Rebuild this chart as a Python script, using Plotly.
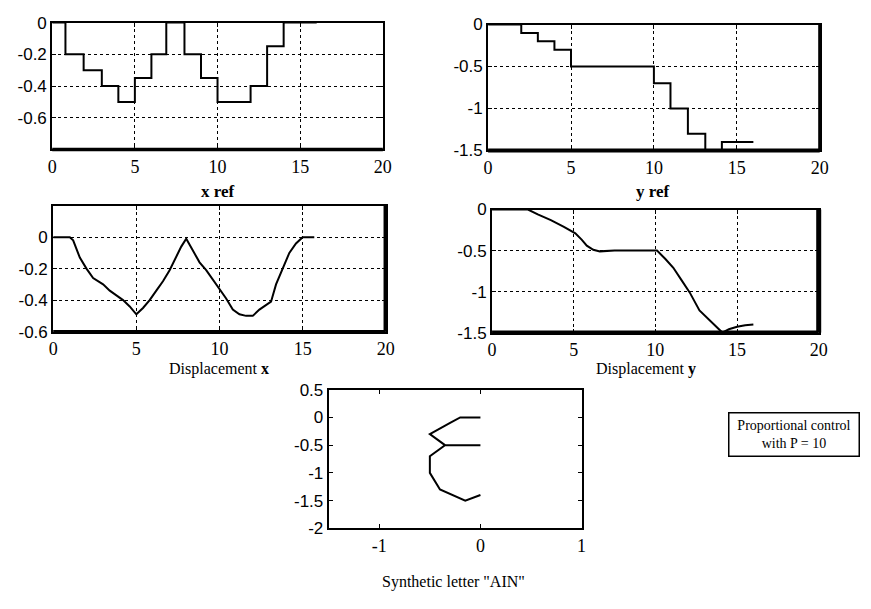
import plotly.graph_objects as go

# ---------------- data ----------------
# reference steps (step start times and values)
xref_t = [0, 0.8, 1.9, 3, 4, 5, 6, 6.9, 8, 9, 10, 11, 12, 13, 14, 15]
xref_v = [0, -0.2, -0.3, -0.4, -0.5, -0.35, -0.2, 0, -0.2, -0.35, -0.5, -0.5, -0.4, -0.15, 0, 0]
yref_t = [0, 1, 2, 3, 4, 5, 6, 7, 8, 9, 10, 11, 12.05, 13.1, 14.1, 15]
yref_v = [0, 0, -0.1, -0.2, -0.3, -0.5, -0.5, -0.5, -0.5, -0.5, -0.7, -1.0, -1.3, -1.5, -1.4, -1.4]
t_end = 16

# displacement responses
dx_t = [0, 0.5, 1.0, 1.2, 1.6, 2.0, 2.4, 3.0, 3.4, 3.8, 4.2, 4.6, 5.0, 5.4, 5.8, 6.2, 6.6, 7.0,
        7.4, 7.7, 8.0, 8.4, 8.8, 9.2, 9.6, 10.0, 10.4, 10.8, 11.2, 11.6, 12.0, 12.4, 12.8, 13.1,
        13.4, 13.8, 14.2, 14.6, 15.0, 15.4, 15.7]
dx_v = [0, 0, 0, -0.02, -0.13, -0.2, -0.26, -0.30, -0.34, -0.37, -0.40, -0.44, -0.49, -0.45,
        -0.40, -0.34, -0.28, -0.21, -0.12, -0.06, -0.01, -0.09, -0.16, -0.21, -0.27, -0.33,
        -0.39, -0.46, -0.49, -0.50, -0.50, -0.46, -0.43, -0.41, -0.30, -0.20, -0.10, -0.04,
        0.0, 0.0, 0.0]
dy_t = [0, 1, 2.2, 2.8, 3.6, 4.4, 5.1, 5.5, 5.8, 6.2, 6.6, 7.5, 8.5, 9.5, 10.1, 10.6, 11.1,
        11.6, 12.1, 12.7, 13.3, 13.9, 14.1, 14.5, 15.0, 15.5, 16.0]
dy_v = [0, 0, 0, -0.06, -0.13, -0.21, -0.29, -0.37, -0.44, -0.49, -0.51, -0.5, -0.5, -0.5,
        -0.5, -0.6, -0.71, -0.86, -1.01, -1.23, -1.35, -1.47, -1.5, -1.46, -1.43, -1.41, -1.40]

time_ticks = [0, 5, 10, 15, 20]
x_panel_ticks = [0, -0.2, -0.4, -0.6]
y_panel_ticks = [0, -0.5, -1, -1.5]
letter_xticks = [-1, 0, 1]
letter_yticks = [0.5, 0, -0.5, -1, -1.5, -2]

# ---------------- figure ----------------
W, H = 871, 609
def px(a, b):
    return [a / W, b / W]
def py(top, bottom):
    return [1 - bottom / H, 1 - top / H]

line = dict(color="black", width=2)
fig = go.Figure()
fig.add_trace(go.Scatter(x=xref_t + [t_end], y=xref_v + [xref_v[-1]], mode="lines",
                         line=dict(color="black", width=2, shape="hv"), xaxis="x", yaxis="y"))
fig.add_trace(go.Scatter(x=yref_t + [t_end], y=yref_v + [yref_v[-1]], mode="lines",
                         line=dict(color="black", width=2, shape="hv"), xaxis="x2", yaxis="y2"))
fig.add_trace(go.Scatter(x=dx_t, y=dx_v, mode="lines", line=line, xaxis="x3", yaxis="y3"))
fig.add_trace(go.Scatter(x=dy_t, y=dy_v, mode="lines", line=line, xaxis="x4", yaxis="y4"))
fig.add_trace(go.Scatter(x=xref_v, y=yref_v, mode="lines", line=line, xaxis="x5", yaxis="y5"))

SANS = "Liberation Sans"
SERIF = "Liberation Serif"

def xax(dom, anchor, ticks, rng, grid=True):
    return dict(domain=dom, anchor=anchor, range=rng, tickvals=ticks,
                ticktext=[f"{v:g}" for v in ticks],
                showgrid=grid, gridcolor="black", griddash="dot", gridwidth=1.2,
                showline=True, linecolor="black", linewidth=2, mirror="ticks",
                ticks="inside", ticklen=4, tickcolor="black", zeroline=False,
                tickfont=dict(family=SERIF, size=18, color="black"), fixedrange=True)

def yax(dom, anchor, ticks, rng, grid=True):
    d = xax(dom, anchor, ticks, rng, grid)
    d["tickfont"] = dict(family=SANS, size=17, color="black")
    return d

fig.update_layout(
    width=W, height=H, margin=dict(l=0, r=0, t=0, b=0),
    paper_bgcolor="white", plot_bgcolor="white", showlegend=False,
    xaxis=xax(px(48, 384), "y", time_ticks, [0, 20]),
    yaxis=yax(py(14, 145), "x", x_panel_ticks, [-0.8, 0]),
    xaxis2=xax(px(491, 828), "y2", time_ticks, [0, 20]),
    yaxis2=yax(py(16, 146), "x2", y_panel_ticks, [-1.5, 0]),
    xaxis3=xax(px(49, 387), "y3", time_ticks, [0, 20]),
    yaxis3=yax(py(203, 333), "x3", x_panel_ticks, [-0.6, 0.2]),
    xaxis4=xax(px(495, 827), "y4", time_ticks, [0, 20]),
    yaxis4=yax(py(207, 334), "x4", y_panel_ticks, [-1.5, 0]),
    xaxis5=xax(px(329, 586), "y5", letter_xticks, [-1.5, 1], grid=False),
    yaxis5=yax(py(393, 536), "x5", letter_yticks, [-2, 0.5], grid=False),
)

# thicker (scanned) borders
def edge(xr, yr, x0, y0, x1, y1, w):
    fig.add_shape(type="line", xref=xr, yref=yr, x0=x0, y0=y0, x1=x1, y1=y1,
                  line=dict(color="black", width=w))
edge("x domain", "y domain", 0, 0, 1, 0, 3.5)
edge("x2 domain", "y2 domain", 0, 0, 1, 0, 4)
edge("x2 domain", "y2 domain", 1, 0, 1, 1, 3)
edge("x3 domain", "y3 domain", 0, 0, 1, 0, 3)
edge("x3 domain", "y3 domain", 1, 0, 1, 1, 4.5)
edge("x4 domain", "y4 domain", 0, 0, 1, 0, 4)
edge("x4 domain", "y4 domain", 1, 0, 1, 1, 5)

def label(text, x, y, size=16, family=SERIF):
    fig.add_annotation(text=text, x=x / W, y=1 - y / H, xref="paper", yref="paper",
                       showarrow=False, font=dict(family=family, size=size, color="black"),
                       xanchor="center", yanchor="middle")

label("<b>x ref</b>", 216, 188, 17)
label("<b>y ref</b>", 659, 188, 17)
label("Displacement <b>x</b>", 217, 372)
label("Displacement <b>y</b>", 651, 372)
label('Synthetic letter "AIN"', 456, 591)

fig.add_annotation(text="Proportional control<br>with P = 10", x=802 / W, y=1 - 439 / H,
                   xref="paper", yref="paper", showarrow=False, align="center",
                   xanchor="center", yanchor="middle",
                   width=125, height=38, borderpad=2,
                   bordercolor="black", borderwidth=1.5, bgcolor="white",
                   font=dict(family=SERIF, size=14, color="black"))

fig.write_html("out.html")
